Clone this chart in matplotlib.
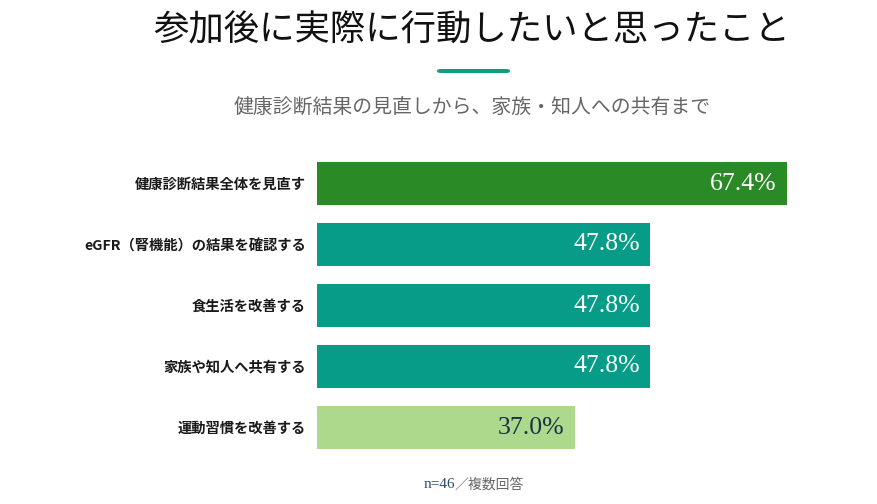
import matplotlib
matplotlib.use("Agg")
import matplotlib.pyplot as plt
from matplotlib.patches import FancyBboxPatch

plt.rcParams['font.family'] = ['Noto Sans CJK JP', 'DejaVu Sans']

categories = ["健康診断結果全体を見直す", "eGFR（腎機能）の結果を確認する", "食生活を改善する",
              "家族や知人へ共有する", "運動習慣を改善する"]
values = [67.4, 47.8, 47.8, 47.8, 37.0]
bar_colors = ["#2a8a25", "#069c87", "#069c87", "#069c87", "#acd98b"]
label_colors = ["white", "white", "white", "white", "#1d2e4a"]

W, H = 878, 504
fig = plt.figure(figsize=(W / 100, H / 100), dpi=100)
fig.patch.set_facecolor("white")

ax = fig.add_axes([317 / W, 1 - 458 / H, 470 / W, 305 / H])
ypos = list(range(len(categories)))
ax.barh(ypos, values, height=0.71, color=bar_colors, edgecolor="none")
ax.set_xlim(0, 67.4)
ax.set_ylim(len(categories) - 0.5, -0.5)
ax.set_yticks(ypos)
ax.set_yticklabels(categories, fontsize=10.3, color="#1a1a1a", fontweight="bold")
ax.tick_params(axis="y", length=0, pad=8)
ax.set_xticks([])
for s in ax.spines.values():
    s.set_visible(False)

for y, v, c in zip(ypos, values, label_colors):
    ax.text(v - 1.5, y, f"{v:.1f}%", ha="right", va="center", color=c,
            fontsize=18.5, family="Liberation Serif")

fig.text(472 / W, 1 - 30 / H, "参加後に実際に行動したいと思ったこと", ha="center", va="center",
         fontsize=25.5, color="#111111")
fig.add_artist(FancyBboxPatch((437 / W, 1 - 73 / H), 73 / W, 4 / H,
                              boxstyle="round,pad=0,rounding_size=0.004",
                              transform=fig.transFigure, color="#0e9e80", lw=0))
fig.text(472 / W, 1 - 108 / H, "健康診断結果の見直しから、家族・知人への共有まで", ha="center",
         va="center", fontsize=14.3, color="#666666")

fig.text(455 / W, 1 - 485 / H, "n=46", ha="right", va="center", fontsize=11,
         color="#2c4a6e", family="Liberation Serif")
fig.text(455 / W, 1 - 485 / H, "／複数回答", ha="left", va="center", fontsize=10,
         color="#666666")

fig.savefig("out.png", dpi=100, facecolor="white")
